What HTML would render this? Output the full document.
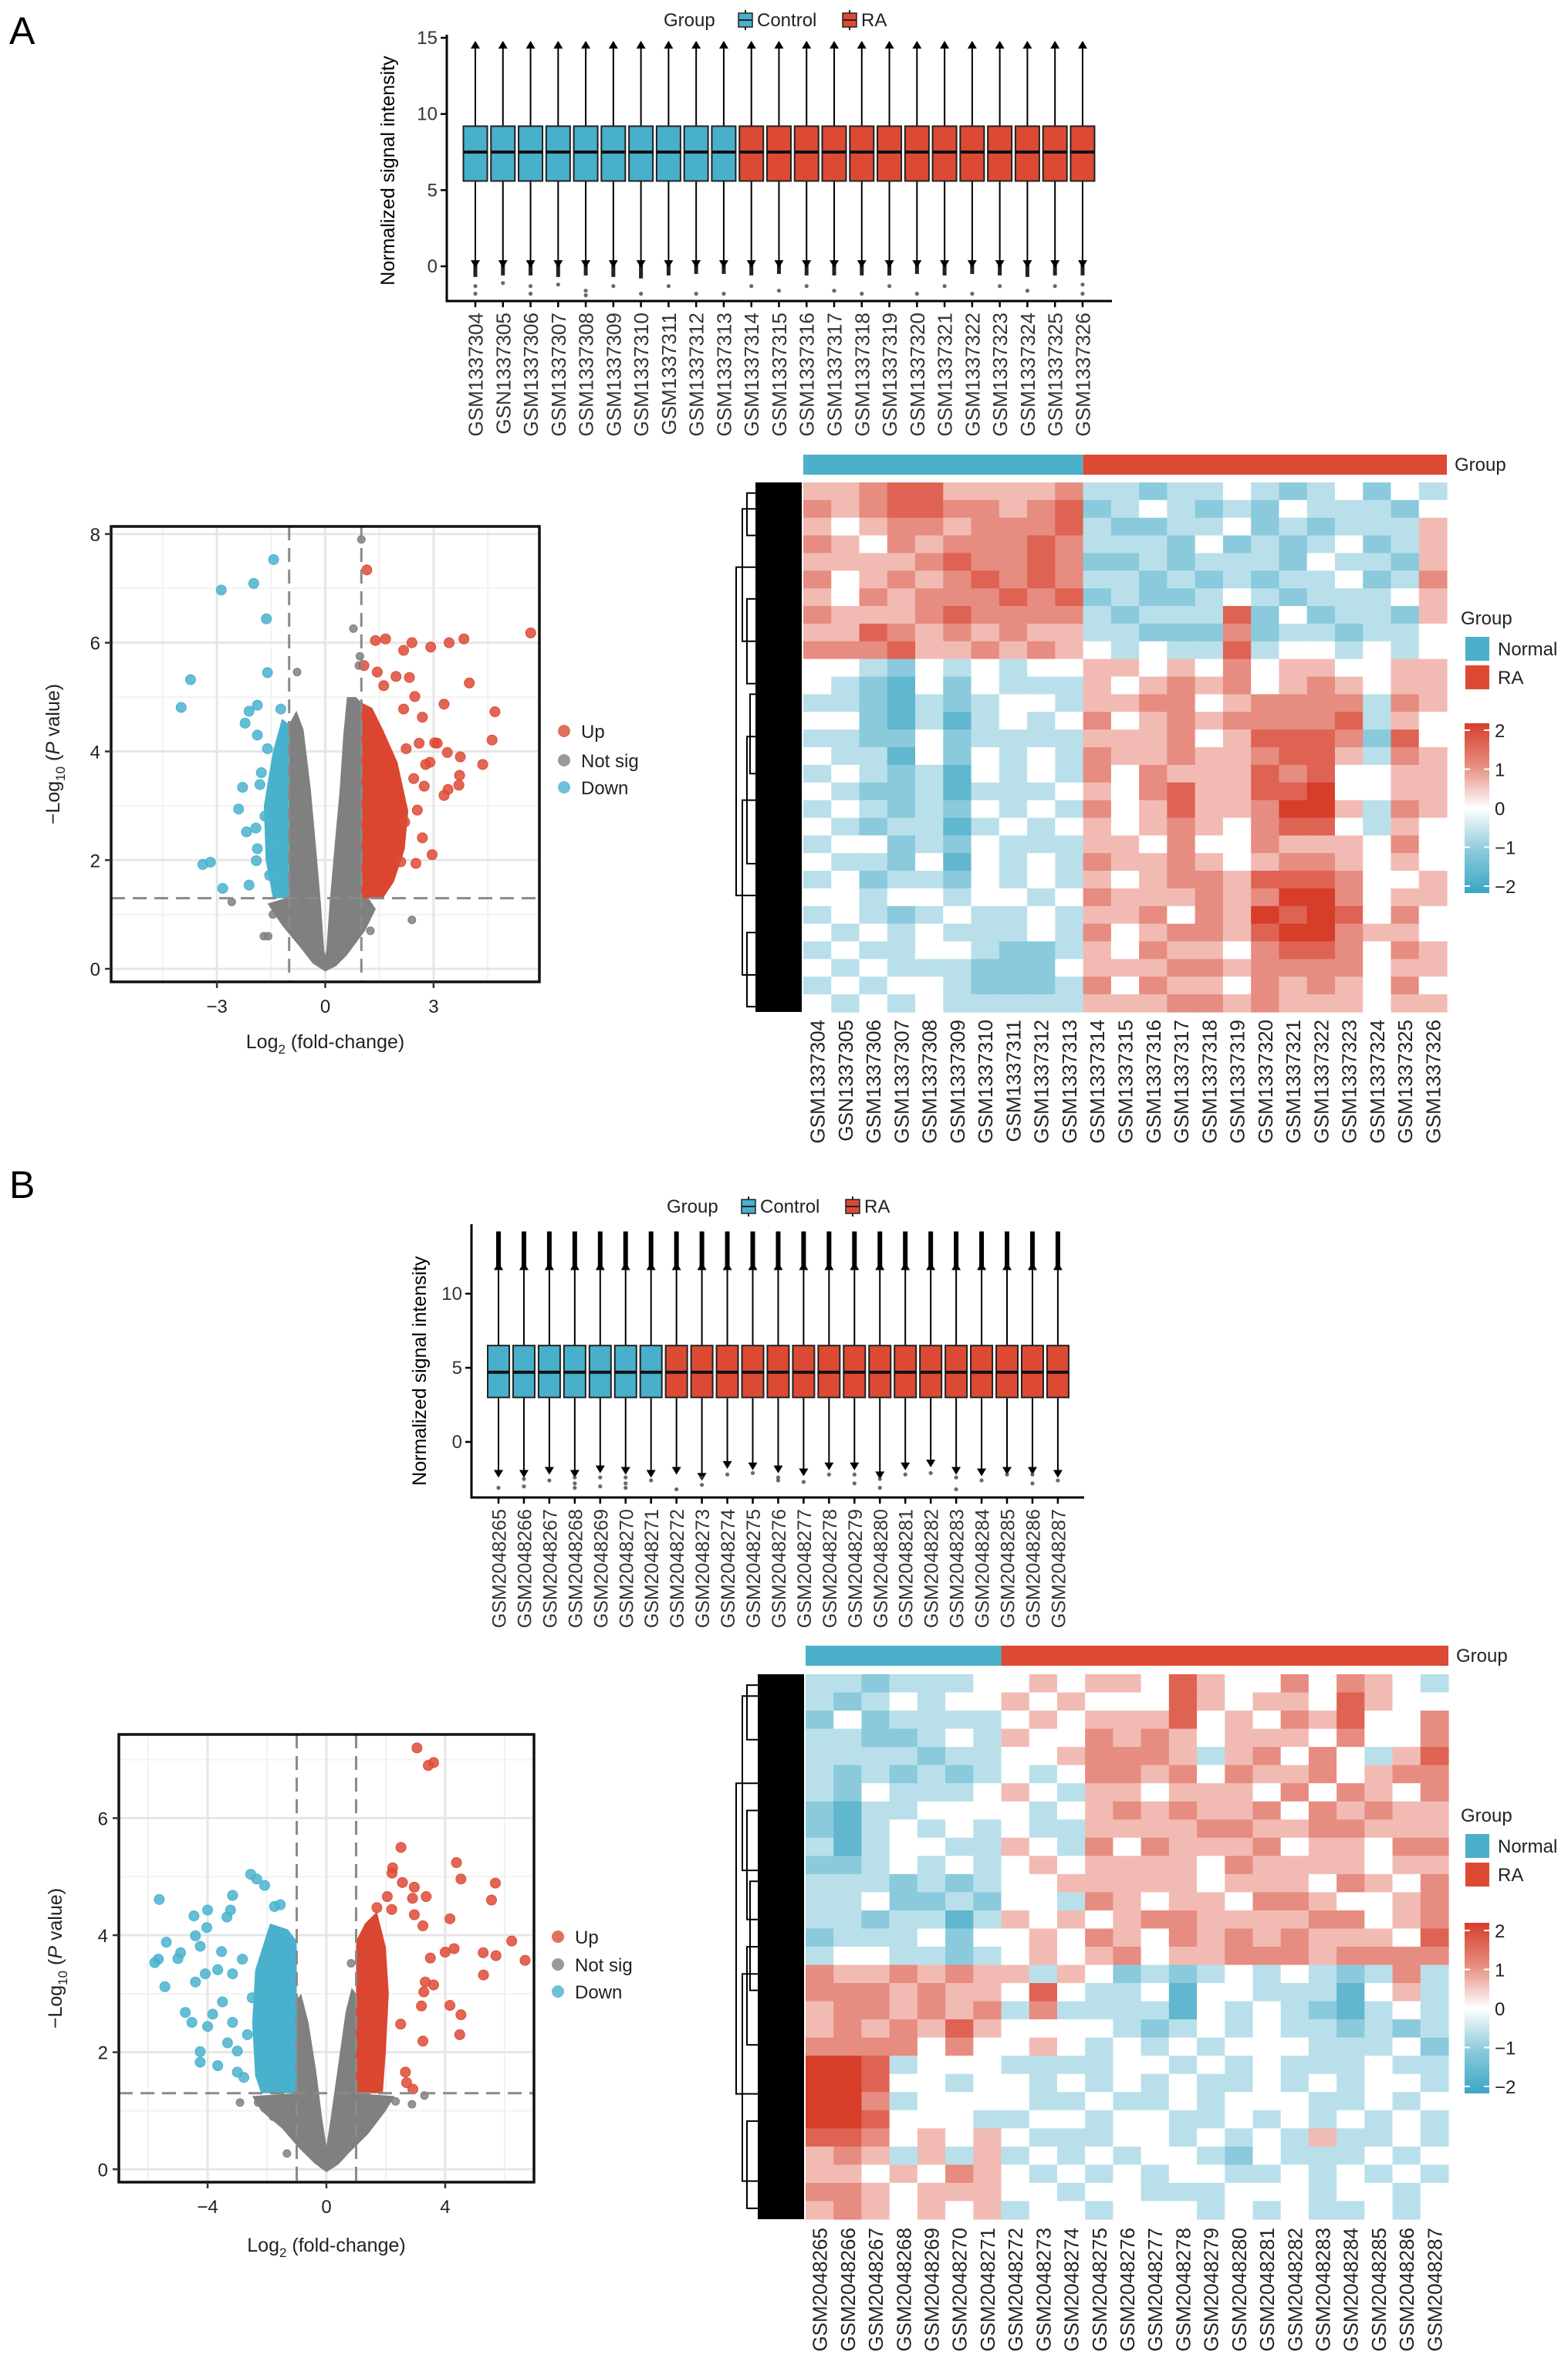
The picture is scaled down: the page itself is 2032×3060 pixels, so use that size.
<!DOCTYPE html>
<html><head><meta charset="utf-8"><title>RA expression figure</title>
<style>
html,body{margin:0;padding:0;background:#fff;}
svg{display:block;font-family:"Liberation Sans",Arial,sans-serif;}
</style></head>
<body>
<svg id="fig" xmlns="http://www.w3.org/2000/svg" width="2032" height="3060" viewBox="0 0 2032 3060">
<rect x="0" y="0" width="2032" height="3060" fill="#fff"/>
<text x="12" y="57" font-size="50">A</text>
<text x="12" y="1552" font-size="50">B</text>
</svg>
<script>
// ---------------- DATA ----------------
const samplesA=['GSM1337304','GSN1337305','GSM1337306','GSM1337307','GSM1337308','GSM1337309','GSM1337310','GSM1337311','GSM1337312','GSM1337313','GSM1337314','GSM1337315','GSM1337316','GSM1337317','GSM1337318','GSM1337319','GSM1337320','GSM1337321','GSM1337322','GSM1337323','GSM1337324','GSM1337325','GSM1337326'];
const nControlA=10;
const q1A=[5.6,5.6,5.6,5.6,5.6,5.6,5.6,5.6,5.6,5.6,5.6,5.6,5.6,5.6,5.6,5.6,5.6,5.6,5.6,5.6,5.6,5.6,5.6];
const medA=[7.5,7.5,7.5,7.5,7.5,7.5,7.5,7.5,7.5,7.5,7.5,7.5,7.5,7.5,7.5,7.5,7.5,7.5,7.5,7.5,7.5,7.5,7.5];
const q3A=[9.2,9.2,9.2,9.2,9.2,9.2,9.2,9.2,9.2,9.2,9.2,9.2,9.2,9.2,9.2,9.2,9.2,9.2,9.2,9.2,9.2,9.2,9.2];
const whLoA=[0.3,0.3,0.3,0.3,0.3,0.3,0.3,0.3,0.3,0.3,0.3,0.3,0.3,0.3,0.3,0.3,0.3,0.3,0.3,0.3,0.3,0.3,0.3];
const whHiA=[14.4,14.4,14.4,14.4,14.4,14.4,14.4,14.4,14.4,14.4,14.4,14.4,14.4,14.4,14.4,14.4,14.4,14.4,14.4,14.4,14.4,14.4,14.4];
const outHiA=[14.7,14.7,14.7,14.7,14.7,14.7,14.7,14.7,14.7,14.7,14.7,14.7,14.7,14.7,14.7,14.7,14.7,14.7,14.7,14.7,14.7,14.7,14.7];
const outLoA=[-0.7,-0.6,-0.6,-0.7,-0.6,-0.7,-0.8,-0.6,-0.5,-0.5,-0.6,-0.5,-0.6,-0.6,-0.6,-0.6,-0.5,-0.6,-0.5,-0.6,-0.7,-0.6,-0.6];
const sparseIdxA=[0,0,1,2,2,3,4,4,5,6,7,8,9,10,11,12,13,14,15,16,17,18,19,20,21,22,22];
const sparseValA=[-1.3,-1.8,-1.1,-1.3,-1.8,-1.2,-1.6,-1.9,-1.3,-1.8,-1.3,-1.8,-1.8,-1.3,-1.6,-1.3,-1.6,-1.8,-1.3,-1.8,-1.3,-1.8,-1.3,-1.6,-1.3,-1.2,-1.8];
const yTicksA=[0,5,10,15];

const samplesB=['GSM2048265','GSM2048266','GSM2048267','GSM2048268','GSM2048269','GSM2048270','GSM2048271','GSM2048272','GSM2048273','GSM2048274','GSM2048275','GSM2048276','GSM2048277','GSM2048278','GSM2048279','GSM2048280','GSM2048281','GSM2048282','GSM2048283','GSM2048284','GSM2048285','GSM2048286','GSM2048287'];
const nControlB=7;
const q1B=[3.0,3.0,3.0,3.0,3.0,3.0,3.0,3.0,3.0,3.0,3.0,3.0,3.0,3.0,3.0,3.0,3.0,3.0,3.0,3.0,3.0,3.0,3.0];
const medB=[4.7,4.7,4.7,4.7,4.7,4.7,4.7,4.7,4.7,4.7,4.7,4.7,4.7,4.7,4.7,4.7,4.7,4.7,4.7,4.7,4.7,4.7,4.7];
const q3B=[6.5,6.5,6.5,6.5,6.5,6.5,6.5,6.5,6.5,6.5,6.5,6.5,6.5,6.5,6.5,6.5,6.5,6.5,6.5,6.5,6.5,6.5,6.5];
const whLoB=[-2.0,-2.0,-1.8,-2.0,-1.7,-1.8,-2.0,-1.8,-2.2,-1.4,-1.5,-1.7,-1.9,-1.5,-1.5,-2.1,-1.5,-1.3,-1.8,-1.9,-1.8,-1.8,-2.0];
const whHiB=[11.7,11.7,11.7,11.7,11.7,11.7,11.7,11.7,11.7,11.7,11.7,11.7,11.7,11.7,11.7,11.7,11.7,11.7,11.7,11.7,11.7,11.7,11.7];
const outHiB=[14.2,14.2,14.2,14.2,14.2,14.2,14.2,14.2,14.2,14.2,14.2,14.2,14.2,14.2,14.2,14.2,14.2,14.2,14.2,14.2,14.2,14.2,14.2];
const sparseIdxB=[0,1,1,2,3,3,3,4,4,5,5,5,6,7,8,8,9,10,11,11,12,13,14,14,15,15,16,17,18,18,19,20,21,21,22];
const sparseValB=[-3.1,-2.5,-3.0,-2.6,-2.4,-2.8,-3.1,-2.4,-3.0,-2.4,-2.8,-3.1,-2.6,-3.2,-2.4,-2.9,-2.2,-2.1,-2.4,-2.6,-2.7,-2.2,-2.2,-2.8,-2.5,-3.1,-2.2,-2.1,-2.4,-3.2,-2.6,-2.2,-2.2,-2.8,-2.6];
const yTicksB=[0,5,10];

// volcano A
const upXA=[1.15,1.39,1.67,2.40,2.17,2.92,3.43,3.84,5.69,1.07,1.44,1.96,2.33,3.99,1.62,2.48,4.70,3.29,2.17,2.69,4.62,4.36,3.74,3.03,3.38,3.72,3.70,3.40,3.29,2.74,2.55,2.69,2.96,2.51,2.09,2.78,2.24,2.6,3.1,2.9,2.45,2.2];
const upYA=[7.34,6.04,6.07,6.00,5.86,5.92,6.00,6.07,6.18,5.58,5.46,5.38,5.36,5.26,5.21,5.01,4.73,4.87,4.78,4.63,4.21,3.76,3.90,4.16,3.98,3.56,3.38,3.30,3.19,3.36,2.92,2.41,2.10,1.94,1.97,3.76,4.05,4.15,4.15,3.8,3.5,2.7];
const downXA=[-1.43,-1.98,-2.88,-1.63,-1.60,-3.73,-3.99,-1.88,-2.11,-2.22,-1.23,-1.88,-2.29,-2.40,-2.18,-1.92,-1.88,-3.39,-3.18,-2.84,-2.11,-1.91,-1.81,-1.77,-1.60,-1.54,-1.47,-1.67];
const downYA=[7.53,7.09,6.97,6.44,5.45,5.32,4.81,4.85,4.74,4.52,4.78,4.30,3.34,2.94,2.52,2.59,2.21,1.92,1.96,1.48,1.54,1.99,3.39,3.61,4.05,1.72,2.27,2.81];
const nsXA=[1.0,0.78,0.93,0.96,-0.78,-2.59,2.40,-1.58,1.25,-1.7,-1.45];
const nsYA=[7.9,6.26,5.58,5.75,5.46,1.23,0.90,0.60,0.70,0.6,1.0];
const nsHullXA=[0,-0.35,-0.7,-1.2,-1.6,-1.1,-1.0,-1.0,-0.8,-0.6,-0.4,-0.25,-0.12,-0.03,0,0.03,0.12,0.25,0.4,0.5,0.6,0.85,1.0,1.0,1.2,1.4,1.1,0.6,0.3];
const nsHullYA=[-0.05,0.1,0.4,0.8,1.2,1.3,1.35,4.5,4.75,4.4,3.3,2.2,1.2,0.35,0.25,0.35,1.2,2.2,3.3,4.3,5.0,5.0,4.9,1.35,1.3,1.1,0.7,0.25,0.05];
const upHullXA=[1.0,1.0,1.3,1.6,2.0,2.3,2.2,1.9,1.6];
const upHullYA=[1.3,4.9,4.8,4.4,3.8,2.9,2.2,1.6,1.3];
const downHullXA=[-1.0,-1.0,-1.2,-1.45,-1.7,-1.65,-1.45];
const downHullYA=[1.3,4.5,4.6,4.0,3.0,2.0,1.3];
const xTicksVA=[-3,0,3];
const yTicksVA=[0,2,4,6,8];

// volcano B
const upXB=[3.05,3.43,3.61,2.51,4.38,4.53,5.69,2.23,2.21,2.56,2.96,3.36,2.9,5.56,2.05,1.70,2.20,2.96,3.25,4.16,6.24,6.69,5.28,5.71,4.30,4.0,3.50,5.29,3.61,3.33,3.28,4.16,4.53,4.49,3.25,3.20,2.66,2.70,2.91,2.50];
const upYB=[7.2,6.9,6.95,5.5,5.24,4.96,4.89,5.15,5.06,4.9,4.82,4.66,4.63,4.6,4.66,4.47,4.44,4.35,4.16,4.28,3.9,3.57,3.70,3.65,3.77,3.71,3.61,3.32,3.15,3.20,3.03,2.80,2.64,2.30,2.19,2.79,1.66,1.48,1.37,2.48];
const downXB=[-2.55,-2.35,-2.08,-3.16,-5.63,-4.0,-4.46,-3.23,-3.35,-1.55,-1.75,-5.39,-4.03,-4.41,-5.78,-5.66,-5.0,-4.91,-5.44,-4.25,-3.53,-4.41,-4.75,-4.53,-4.25,-4.25,-3.66,-3.0,-2.78,-3.33,-3.83,-3.50,-4.08,-3.66,-3.16,-2.83,-4.0,-3.16,-2.66,-3.0,-2.5];
const downYB=[5.04,4.96,4.85,4.68,4.61,4.43,4.33,4.43,4.31,4.52,4.49,3.88,4.13,3.99,3.53,3.59,3.60,3.70,3.12,3.81,3.72,3.20,2.68,2.51,2.01,1.83,1.77,1.66,1.57,2.16,2.65,2.86,3.34,3.41,3.34,3.59,2.44,2.51,2.30,2.02,2.93];
const nsXB=[0.83,-2.91,-2.30,-1.33,2.33,2.88,3.30,-1.8,1.7];
const nsYB=[3.52,1.14,1.14,0.27,1.16,1.11,1.26,0.9,0.95];
const nsHullXB=[0,-0.4,-0.9,-1.5,-2.2,-2.5,-1.0,-1.0,-0.85,-0.6,-0.35,-0.15,0,0.15,0.4,0.65,0.85,1.0,1.0,2.3,2.0,1.4,0.8,0.4];
const nsHullYB=[-0.05,0.1,0.35,0.7,1.0,1.25,1.3,2.9,3.0,2.5,1.7,0.9,0.4,0.9,1.8,2.7,3.1,3.0,1.3,1.25,1.0,0.6,0.3,0.08];
const upHullXB=[1,1,1.3,1.7,2.0,2.1,2.0,1.9];
const upHullYB=[1.3,3.9,4.2,4.4,3.8,3.0,2.0,1.3];
const downHullXB=[-1,-1,-1.3,-1.9,-2.4,-2.5,-2.4,-2.2];
const downHullYB=[1.3,3.9,4.1,4.2,3.4,2.5,1.6,1.3];
const xTicksVB=[-4,0,4];
const yTicksVB=[0,2,4,6];

// heatmap z-scores: digit d -> (d-4)/2
const heatA=[
"5567755556"+"3323343234243","6567766567"+"2343232433324","5456656667"+"3223342323335","6546566676"+"3332423234235",
"5555676676"+"2232333243325","6456567676"+"3323232334236","5465666767"+"2322343233345","6555676666"+"3233372423325",
"5576565655"+"3322262332334","6667556565"+"4343373443434","4432434344"+"5545464554455","4321424333"+"5456564565455",
"3321323443"+"5566456666365","4421313434"+"6456566667354","3322423333"+"5556457776274","4331424343"+"6556556775365",
"3432314343"+"6465557674455","4322313334"+"5467557784455","3432324343"+"6457556885365","4323313434"+"5456546774354",
"3442324333"+"5546446555464","4332414343"+"6556545665454","3423324343"+"5456657776445","4434434434"+"6555656886455",
"3432343343"+"5564658787464","4343433343"+"6456657886554","3433443223"+"5465546776465","4343332224"+"5556656666455",
"3434432223"+"6465546565464","4343433333"+"5556656555455"];
const heatB=[
"3323334"+"4545547544646543","3234344"+"5454447545547544","2423333"+"4545557454657446","3322343"+"5446565455546446",
"3333233"+"4456665356464357","3232323"+"4346656465564566","3243334"+"5435545554646546","2133444"+"4345656556465655",
"2134343"+"4335555665566555","3134433"+"5436465556455466","2234343"+"4545555465555455","3332323"+"4455555455546546",
"3342232"+"4436545546654456","3323313"+"5454566555566456","2333424"+"4546546565655547","3443323"+"4545645566656666",
"6556565"+"5354232343432363","6665655"+"4743341443331453","5665656"+"3633331434321343","5656575"+"4444323434332323",
"6666464"+"4543434344433342","8873444"+"3333443434333433","8874434"+"4343434334343443","8863444"+"4334334344433434",
"8874443"+"3443443343434343","7764545"+"4333443434353343","5653535"+"3434344324333434","5545465"+"4343434433434343",
"6654555"+"4434433344434434","5654545"+"3443444343433434"];
const cbTicks=[2,1,0,-1,-2];
const cbLabels=['2','1','0','\u22121','\u22122'];

// ---------------- HELPERS ----------------
const NS='http://www.w3.org/2000/svg';
const svg=document.getElementById('fig');
function mk(tag,attrs,parent){const e=document.createElementNS(NS,tag);for(const k in attrs)e.setAttribute(k,attrs[k]);(parent||svg).appendChild(e);return e;}
function txt(s,attrs,parent){const e=mk('text',attrs,parent);e.textContent=s;return e;}
const CBLUE='#48B0CB',CRED='#DD4A34';
function lin(d0,d1,r0,r1){return v=>r0+(v-d0)*(r1-r0)/(d1-d0);}

// ---------------- BOXPLOT ----------------
function boxplot(cfg){
  const g=mk('g',{});
  
  
  const y=cfg.y, x=i=>cfg.x0+i*cfg.dx;
  const ax=mk('line',{x1:cfg.axX,y1:cfg.axTop,x2:cfg.axX,y2:cfg.axBot,stroke:'#000','stroke-width':3},g);
  
  
  const bx=mk('line',{x1:cfg.axX-1.5,y1:cfg.axBot,x2:cfg.axRight,y2:cfg.axBot,stroke:'#000','stroke-width':3},g);
  
  
  cfg.ticks.forEach(t=>{
    mk('line',{x1:cfg.axX-8,x2:cfg.axX,y1:y(t),y2:y(t),stroke:'#000','stroke-width':2.5},g);
    const tl=txt(String(t),{x:cfg.axX-12,y:y(t)+8,'font-size':24,'text-anchor':'end',fill:'#333'},g);
    
    
  });
  const yt=txt('Normalized signal intensity',{x:cfg.titleX,y:cfg.titleY,'font-size':25,'text-anchor':'middle',transform:`rotate(-90 ${cfg.titleX} ${cfg.titleY})`},g);
  
  
  cfg.samples.forEach((s,i)=>{
    const cx=x(i), w=cfg.bw, col=i<cfg.nCtrl?CBLUE:CRED;
    const bg=mk('g',{},g);
    
    
    mk('line',{x1:cx,x2:cx,y1:y(cfg.outHi[i]),y2:y(cfg.whHi[i]),stroke:'#000','stroke-width':cfg.outW},bg);
    mk('line',{x1:cx,x2:cx,y1:y(cfg.whHi[i]),y2:y(cfg.q3[i]),stroke:'#000','stroke-width':2},bg);
    mk('line',{x1:cx,x2:cx,y1:y(cfg.q1[i]),y2:y(cfg.whLo[i]),stroke:'#000','stroke-width':2},bg);
    if(cfg.outLo){mk('line',{x1:cx,x2:cx,y1:y(cfg.whLo[i]),y2:y(cfg.outLo[i]),stroke:'#222','stroke-width':5},bg);}
    mk('path',{d:`M${cx-6},${y(cfg.whHi[i])+2} L${cx+6},${y(cfg.whHi[i])+2} L${cx},${y(cfg.whHi[i])-8}Z`,fill:'#000'},bg);
    mk('path',{d:`M${cx-6},${y(cfg.whLo[i])-2} L${cx+6},${y(cfg.whLo[i])-2} L${cx},${y(cfg.whLo[i])+8}Z`,fill:'#000'},bg);
    mk('rect',{x:cx-w/2,y:y(cfg.q3[i]),width:w,height:y(cfg.q1[i])-y(cfg.q3[i]),fill:col,stroke:'#222','stroke-width':2},bg);
    mk('line',{x1:cx-w/2,x2:cx+w/2,y1:y(cfg.med[i]),y2:y(cfg.med[i]),stroke:'#111','stroke-width':4},bg);
    mk('line',{x1:cx,x2:cx,y1:cfg.axBot,y2:cfg.axBot+8,stroke:'#000','stroke-width':2.5},g);
    const lb=txt(s,{x:cx+9.5,y:cfg.labTop,'font-size':cfg.labFs,'text-anchor':'end',fill:'#333',transform:`rotate(-90 ${cx+9.5} ${cfg.labTop})`},g);
    
    
  });
  cfg.sparseIdx.forEach((k,j)=>{
    const d=mk('circle',{cx:x(k),cy:y(cfg.sparseVal[j]),r:2.6,fill:'#444',opacity:0.8},g);
    
    
  });
  const lg=mk('g',{},g);
  
  
  const ly=cfg.legY, lx=cfg.legX;
  txt('Group',{x:lx,y:ly+8,'font-size':24,fill:'#222'},lg);
  [[lx+97,CBLUE,'Control'],[lx+232,CRED,'RA']].forEach(([sx,c,l])=>{
    const it=mk('g',{},lg);
    
    
    mk('line',{x1:sx+9,x2:sx+9,y1:ly-13,y2:ly+13,stroke:'#222','stroke-width':2},it);
    mk('rect',{x:sx,y:ly-9,width:18,height:18,fill:c,stroke:'#222','stroke-width':1.5},it);
    mk('line',{x1:sx,x2:sx+18,y1:ly,y2:ly,stroke:'#222','stroke-width':2},it);
    txt(l,{x:sx+24,y:ly+8,'font-size':24,fill:'#222'},it);
  });
}
boxplot({name:'boxplot-a',samples:samplesA,nCtrl:nControlA,q1:q1A,med:medA,q3:q3A,whLo:whLoA,whHi:whHiA,outHi:outHiA,outLo:outLoA,
  sparseIdx:sparseIdxA,sparseVal:sparseValA,ticks:yTicksA,y:lin(0,15,345,49),x0:616,dx:35.77,bw:31,outW:3,
  axX:579,axTop:45,axBot:390,axRight:1441,titleX:511,titleY:221,labTop:405,labFs:26,legX:860,legY:26});
boxplot({name:'boxplot-b',samples:samplesB,nCtrl:nControlB,q1:q1B,med:medB,q3:q3B,whLo:whLoB,whHi:whHiB,outHi:outHiB,outLo:null,
  sparseIdx:sparseIdxB,sparseVal:sparseValB,ticks:yTicksB,y:lin(0,10,1868,1676),x0:646,dx:32.95,bw:28,outW:6,
  axX:611,axTop:1586,axBot:1940,axRight:1405,titleX:552,titleY:1776,labTop:1955,labFs:25,legX:864,legY:1563});

// ---------------- VOLCANO ----------------
function volcano(cfg){
  const g=mk('g',{});
  
  
  const X=lin(cfg.xr[0],cfg.xr[1],cfg.L,cfg.R), Y=lin(cfg.yr[0],cfg.yr[1],cfg.B,cfg.T);
  mk('rect',{x:cfg.L,y:cfg.T,width:cfg.R-cfg.L,height:cfg.B-cfg.T,fill:'#fff'},g);
  cfg.minorX.forEach(v=>mk('line',{x1:X(v),x2:X(v),y1:cfg.T,y2:cfg.B,stroke:'#f2f2f2','stroke-width':2},g));
  cfg.minorY.forEach(v=>mk('line',{x1:cfg.L,x2:cfg.R,y1:Y(v),y2:Y(v),stroke:'#f2f2f2','stroke-width':2},g));
  cfg.xt.forEach(v=>mk('line',{x1:X(v),x2:X(v),y1:cfg.T,y2:cfg.B,stroke:'#e6e6e6','stroke-width':3},g));
  cfg.yt.forEach(v=>mk('line',{x1:cfg.L,x2:cfg.R,y1:Y(v),y2:Y(v),stroke:'#e6e6e6','stroke-width':3},g));
  const poly=(xs,ys,fill,nm)=>{const p=mk('polygon',{points:xs.map((v,i)=>X(v)+','+Y(ys[i])).join(' '),fill:fill},g);
    
    };
  poly(cfg.nsHx,cfg.nsHy,'#808080','not-sig-dense-points');
  poly(cfg.upHx,cfg.upHy,'#DA4630','up-dense-points');
  poly(cfg.dnHx,cfg.dnHy,'#49B1CD','down-dense-points');
  const pts=(xs,ys,fill,r,nm)=>xs.forEach((v,i)=>{const c=mk('circle',{cx:X(v),cy:Y(ys[i]),r:r,fill:fill,'fill-opacity':0.85,stroke:fill,'stroke-width':1},g);
    
    });
  pts(cfg.nsX,cfg.nsY,'#808080',5,'not-sig-point');
  pts(cfg.upX,cfg.upY,'#DE4B37',6.5,'up-point');
  pts(cfg.dnX,cfg.dnY,'#4AB3CE',6.5,'down-point');
  const dash={stroke:'#8a8a8a','stroke-width':3,'stroke-dasharray':'18 10'};
  [-1,1].forEach(v=>mk('line',Object.assign({x1:X(v),x2:X(v),y1:cfg.T,y2:cfg.B},dash),g));
  mk('line',Object.assign({x1:cfg.L,x2:cfg.R,y1:Y(1.3),y2:Y(1.3)},dash),g);
  const bd=mk('rect',{x:cfg.L,y:cfg.T,width:cfg.R-cfg.L,height:cfg.B-cfg.T,fill:'none',stroke:'#111','stroke-width':3.5},g);
  
  
  cfg.xt.forEach(v=>{mk('line',{x1:X(v),x2:X(v),y1:cfg.B,y2:cfg.B+8,stroke:'#333','stroke-width':2.5},g);
    const t=txt(v<0?'\u2212'+(-v):String(v),{x:X(v),y:cfg.B+40,'font-size':24,'text-anchor':'middle',fill:'#222'},g);
    
    });
  cfg.yt.forEach(v=>{mk('line',{x1:cfg.L-8,x2:cfg.L,y1:Y(v),y2:Y(v),stroke:'#333','stroke-width':2.5},g);
    const t=txt(String(v),{x:cfg.L-14,y:Y(v)+9,'font-size':24,'text-anchor':'end',fill:'#222'},g);
    
    });
  const xl=mk('text',{x:(cfg.L+cfg.R)/2,y:cfg.xlY,'font-size':25,'text-anchor':'middle',fill:'#222'},g);
  
  
  xl.innerHTML='Log<tspan font-size="17" dy="7">2</tspan><tspan dy="-7"> (fold-change)</tspan>';
  const yl=mk('text',{x:cfg.ylX,y:(cfg.T+cfg.B)/2,'font-size':25,'text-anchor':'middle',fill:'#222',transform:`rotate(-90 ${cfg.ylX} ${(cfg.T+cfg.B)/2})`},g);
  
  
  yl.innerHTML='\u2212Log<tspan font-size="17" dy="7">10</tspan><tspan dy="-7"> (</tspan><tspan font-style="italic">P</tspan> value)';
  const lg=mk('g',{},g);
  
  
  [['Up','#E0705F',cfg.legY[0]],['Not sig','#9a9a9a',cfg.legY[1]],['Down','#6DC1D8',cfg.legY[2]]].forEach(([l,c,yy])=>{
    const it=mk('g',{},lg);
    
    
    mk('circle',{cx:cfg.legX,cy:yy,r:8,fill:c},it);
    txt(l,{x:cfg.legX+22,y:yy+9,'font-size':24,fill:'#222'},it);
  });
}
volcano({name:'volcano-a',L:144,R:699,T:682,B:1272,xr:[-5.93,5.93],yr:[-0.24,8.14],xt:xTicksVA,yt:yTicksVA,
  minorX:[-4.5,-1.5,1.5,4.5],minorY:[1,3,5,7],upX:upXA,upY:upYA,dnX:downXA,dnY:downYA,nsX:nsXA,nsY:nsYA,
  nsHx:nsHullXA,nsHy:nsHullYA,upHx:upHullXA,upHy:upHullYA,dnHx:downHullXA,dnHy:downHullYA,
  xlY:1358,ylX:77,legX:731,legY:[947,985,1020]});
volcano({name:'volcano-b',L:154,R:692,T:2247,B:2827,xr:[-6.99,6.99],yr:[-0.22,7.43],xt:xTicksVB,yt:yTicksVB,
  minorX:[-6,-2,2,6],minorY:[1,3,5,7],upX:upXB,upY:upYB,dnX:downXB,dnY:downYB,nsX:nsXB,nsY:nsYB,
  nsHx:nsHullXB,nsHy:nsHullYB,upHx:upHullXB,upHy:upHullYB,dnHx:downHullXB,dnHy:downHullYB,
  xlY:2917,ylX:80,legX:723,legY:[2509,2545,2580]});

// ---------------- HEATMAP ----------------
function zcol(v){
  v=Math.max(-2,Math.min(2,v));
  const lo=[58,166,196],mid=[255,255,255],hi=[214,62,42];
  const t=Math.pow(Math.abs(v)/2,0.75), a=v<0?lo:hi;
  const c=mid.map((m,k)=>Math.round(m+(a[k]-m)*t));
  return `rgb(${c[0]},${c[1]},${c[2]})`;
}
function heatmap(cfg){
  const g=mk('g',{});
  
  
  const n=cfg.samples.length, cw=(cfg.R-cfg.L)/n, R=cfg.rows.length, rh=(cfg.B-cfg.T)/R;
  const gb1=mk('rect',{x:cfg.L,y:cfg.gT,width:cw*cfg.nCtrl,height:cfg.gB-cfg.gT,fill:'#4BB1CA'},g);
  
  
  const gb2=mk('rect',{x:cfg.L+cw*cfg.nCtrl,y:cfg.gT,width:cw*(n-cfg.nCtrl),height:cfg.gB-cfg.gT,fill:'#DC4A33'},g);
  
  
  const gl=txt('Group',{x:cfg.R+10,y:(cfg.gT+cfg.gB)/2+8,'font-size':24,fill:'#222'},g);
  
  
  cfg.rows.forEach((row,r)=>{
    for(let c=0;c<n;c++){
      const v=(parseInt(row[c],10)-4)/2;
      const cell=mk('rect',{x:cfg.L+c*cw,y:cfg.T+r*rh,width:cw+0.6,height:rh+0.6,fill:zcol(v)},g);
      
      
    }
  });
  const dg=mk('g',{stroke:'#000','stroke-width':2,fill:'none'},g);
  
  
  mk('rect',{x:cfg.L-62,y:cfg.T,width:60,height:cfg.B-cfg.T,fill:'#000',stroke:'none'},dg);
  const H=cfg.B-cfg.T;
  cfg.dendro.forEach(([x,a,b])=>{
    const y1=cfg.T+a*H,y2=cfg.T+b*H;
    mk('path',{d:`M${cfg.L-62},${y1} H${x} V${y2} H${cfg.L-62}`},dg);
  });
  cfg.samples.forEach((s,i)=>{
    const cx=cfg.L+(i+0.5)*cw;
    const lb=txt(s,{x:cx+9.5,y:cfg.labTop,'font-size':26,'text-anchor':'end',fill:'#222',transform:`rotate(-90 ${cx+9.5} ${cfg.labTop})`},g);
    
    
  });
  const lg=mk('g',{},g);
  
  
  txt('Group',{x:1893,y:cfg.legT,'font-size':24,fill:'#222'},lg);
  [['Normal','#4BB1CA',cfg.legT+16],['RA','#DC4A33',cfg.legT+53]].forEach(([l,c,yy])=>{
    const it=mk('g',{},lg);
    
    
    mk('rect',{x:1899,y:yy,width:31,height:31,fill:c},it);
    txt(l,{x:1941,y:yy+24,'font-size':24,fill:'#222'},it);
  });
  const gid='cb'+cfg.name;
  const defs=mk('defs',{},g);
  const gr=mk('linearGradient',{id:gid,x1:0,y1:0,x2:0,y2:1},defs);
  [[0,2],[0.25,1],[0.5,0],[0.75,-1],[1,-2]].forEach(([o,v])=>mk('stop',{offset:o,'stop-color':zcol(v)},gr));
  const cb=mk('rect',{x:1898,y:cfg.cbT,width:32,height:cfg.cbB-cfg.cbT,fill:`url(#${gid})`},lg);
  
  
  const cy=lin(2,-2,cfg.cb2,cfg.cbm2);
  cbTicks.forEach((v,k)=>{
    mk('line',{x1:1898,x2:1905,y1:cy(v),y2:cy(v),stroke:'#fff','stroke-width':2},lg);
    mk('line',{x1:1923,x2:1930,y1:cy(v),y2:cy(v),stroke:'#fff','stroke-width':2},lg);
    const t=txt(cbLabels[k],{x:1937,y:cy(v)+9,'font-size':24,fill:'#222'},lg);
    
    
  });
}
heatmap({name:'heatmap-a',samples:samplesA,nCtrl:nControlA,rows:heatA,L:1041,R:1875,T:625,B:1311,gT:589,gB:615,labTop:1321,
  legT:809,cbT:937,cbB:1157,cb2:946,cbm2:1148,
  dendro:[[954,0.16,0.78],[962,0.05,0.3],[962,0.6,0.93],[968,0.02,0.1],[968,0.22,0.38],[968,0.48,0.72],[968,0.85,0.99],[972,0.4,0.55]]});
heatmap({name:'heatmap-b',samples:samplesB,nCtrl:nControlB,rows:heatB,L:1044,R:1877,T:2169,B:2875,gT:2132,gB:2158,labTop:2886,
  legT:2360,cbT:2491,cbB:2712,cb2:2501,cbm2:2703,
  dendro:[[954,0.2,0.77],[962,0.04,0.36],[962,0.55,0.93],[968,0.02,0.12],[968,0.25,0.45],[968,0.5,0.68],[968,0.82,0.98],[972,0.38,0.58]]});
</script>
</body></html>
